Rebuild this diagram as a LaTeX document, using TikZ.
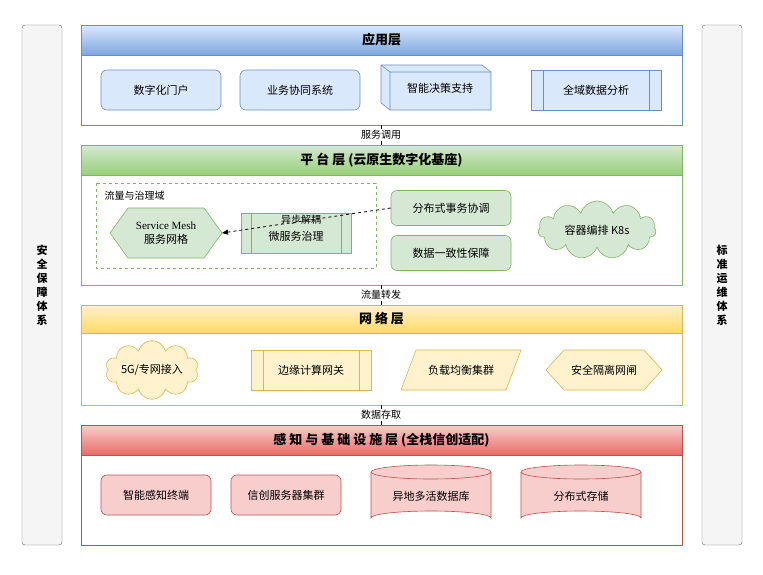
\documentclass[tikz,border=0pt]{standalone}
\usepackage{fontspec}
\setmainfont{Liberation Serif}
\newfontfamily\cjk{Noto Sans CJK SC}
\usetikzlibrary{shapes.geometric,shapes.symbols,arrows.meta}
\definecolor{bF}{HTML}{DAE8FC}\definecolor{bS}{HTML}{6C8EBF}\definecolor{bD}{HTML}{7EA6E0}
\definecolor{gF}{HTML}{D5E8D4}\definecolor{gS}{HTML}{82B366}\definecolor{gD}{HTML}{97D077}
\definecolor{yF}{HTML}{FFF2CC}\definecolor{yS}{HTML}{D6B656}\definecolor{yD}{HTML}{FFD966}
\definecolor{rF}{HTML}{F8CECC}\definecolor{rS}{HTML}{B85450}\definecolor{rD}{HTML}{EA6B66}
\definecolor{sF}{HTML}{F5F5F5}\definecolor{sS}{HTML}{666666}
\tikzset{
 txt/.style={font=\cjk\fontsize{11}{13}\selectfont,align=center},
 lay/.style={draw=#1,line width=0.6pt,fill=white},
 hdr/.style={font=\cjk\bfseries\fontsize{13}{15}\selectfont},
 box/.style={txt,draw=#1S,fill=#1F,line width=0.6pt,inner sep=0pt},
 rbox/.style={box=#1,rounded corners=6pt},
 lbl/.style={font=\cjk\fontsize{10}{12}\selectfont,fill=white,inner sep=1pt},
}
\begin{document}
\begin{tikzpicture}[x=1pt,y=-1pt]
\useasboundingbox (0,0) rectangle (763,574);
\fill[white] (0,0) rectangle (763,574);
% side bars
\node[draw=sS,fill=sF,rounded corners=3pt,minimum width=40pt,minimum height=520pt,txt,font=\cjk\bfseries\fontsize{11}{14}\selectfont] (L) at (42,285) {安\\全\\保\\障\\体\\系};
\node[draw=sS,fill=sF,rounded corners=3pt,minimum width=40pt,minimum height=520pt,txt,font=\cjk\bfseries\fontsize{11}{14}\selectfont] (R) at (722,285) {标\\准\\运\\维\\体\\系};
% layers
\draw[lay=bS] (81,25) rectangle (682,125);
\shade[top color=bF,bottom color=bD,draw=bS] (81,25) rectangle (682,55);
\node[hdr] (h1) at (381.5,40) {应用层};
\draw[lay=gS] (81,145) rectangle (682,285);
\shade[top color=gF,bottom color=gD,draw=gS] (81,145) rectangle (682,175);
\node[hdr] (h2) at (381.5,160) {平 台 层 (云原生数字化基座)};
\draw[lay=yS] (81,305) rectangle (682,405);
\shade[top color=yF,bottom color=yD,draw=yS] (81,305) rectangle (682,333);
\node[hdr] (h3) at (381.5,319) {网 络 层};
\draw[lay=rS] (81,425) rectangle (682,545);
\shade[top color=rF,bottom color=rD,draw=rS] (81,425) rectangle (682,455);
\node[hdr] (h4) at (381.5,440) {感 知 与 基 础 设 施 层 (全栈信创适配)};
% inter-layer links
\coordinate (a1) at (381,125); \coordinate (a2) at (381,145);
\coordinate (b1) at (381,285); \coordinate (b2) at (381,305);
\coordinate (c1) at (381,405); \coordinate (c2) at (381,425);
\draw[line width=1pt] (a1) -- (a2) node[midway,lbl] {服务调用};
\draw[line width=1pt] (b1) -- (b2) node[midway,lbl] {流量转发};
\draw[line width=1pt] (c1) -- (c2) node[midway,lbl] {数据存取};
% app layer
\node[rbox=b,minimum width=120pt,minimum height=40pt] (a) at (161,90) {数字化门户};
\node[rbox=b,minimum width=120pt,minimum height=40pt] (b) at (300,90) {业务协同系统};
\draw[bS,fill=bF,line width=0.6pt] (381,65) -- (482,65) -- (491,72) -- (491,110) -- (390,110) -- (381,103) -- cycle;
\draw[bS,line width=0.6pt] (381,65) -- (390,72) -- (491,72) (390,72) -- (390,110);
\node[txt] (c) at (440,88) {智能决策支持};
\node[box=b,minimum width=130pt,minimum height=40pt] (d) at (596,90) {全域数据分析};
\draw[bS] (543,70) -- (543,110) (649,70) -- (649,110);
% platform layer
\draw[gS,dashed,line width=0.6pt] (96,183) rectangle (376,268);
\node[txt,anchor=west,font=\cjk\fontsize{10}{12}\selectfont] (dom) at (101,196) {流量与治理域};
\draw[gS,fill=gF,line width=0.6pt] (110,233) -- (128,208) -- (204,208) -- (222,233) -- (204,258) -- (128,258) -- cycle;
\node[txt,font=\fontsize{11}{14}\selectfont] (sm) at (166,233) {Service Mesh\\{\cjk 服务网格}};
\coordinate (smE) at (222,233);
\node[box=g,minimum width=110pt,minimum height=40pt] (ms) at (296,233) {\\[2pt]微服务治理};
\draw[gS] (251,213) -- (251,253) (341,213) -- (341,253);
\node[rbox=g,minimum width=120pt,minimum height=35pt] (tx) at (451,208) {分布式事务协调};
\node[rbox=g,minimum width=120pt,minimum height=35pt] (dc) at (451,253) {数据一致性保障};
\draw[dashed,line width=0.8pt,-{Triangle[length=6pt,width=5pt]}] (tx.west) -- (smE);
\node[lbl,fill=none] (yb) at (301,220) {异步解耦};
\node[box=g,cloud,cloud puffs=11,aspect=2.3,minimum width=118pt,minimum height=52pt] (k8s) at (597,230) {容器编排 K8s};
% network layer
\node[box=y,cloud,cloud puffs=10,aspect=2.2,minimum width=66pt,minimum height=34pt,inner sep=0pt] (g5) at (152,370) {5G/专网接入};
\node[box=y,minimum width=120pt,minimum height=40pt] (edge) at (311,370) {边缘计算网关};
\draw[yS] (263,350) -- (263,390) (359,350) -- (359,390);
\draw[yS,fill=yF,line width=0.6pt] (401,390) -- (416,350) -- (521,350) -- (506,390) -- cycle;
\node[txt] (lb) at (461,370) {负载均衡集群};
\draw[yS,fill=yF,line width=0.6pt] (546,370) -- (564,350) -- (644,350) -- (662,370) -- (644,390) -- (564,390) -- cycle;
\node[txt] (gap) at (604,370) {安全隔离网闸};
% infra layer
\node[rbox=r,minimum width=110pt,minimum height=40pt] (sense) at (156,495) {智能感知终端};
\node[rbox=r,minimum width=110pt,minimum height=40pt] (srv) at (286,495) {信创服务器集群};
\foreach \x/\n/\t in {431/db/异地多活数据库,581/st/分布式存储}{
 \draw[rS,fill=rF,line width=0.6pt] (\x-60,472) -- (\x-60,518) arc[start angle=180,end angle=360,x radius=60,y radius=7] -- (\x+60,472);
 \draw[rS,fill=rF,line width=0.6pt] (\x,472) ellipse[x radius=60,y radius=7];
 \node[txt] (\n) at (\x,496) {\t};
}
\end{tikzpicture}
\end{document}
